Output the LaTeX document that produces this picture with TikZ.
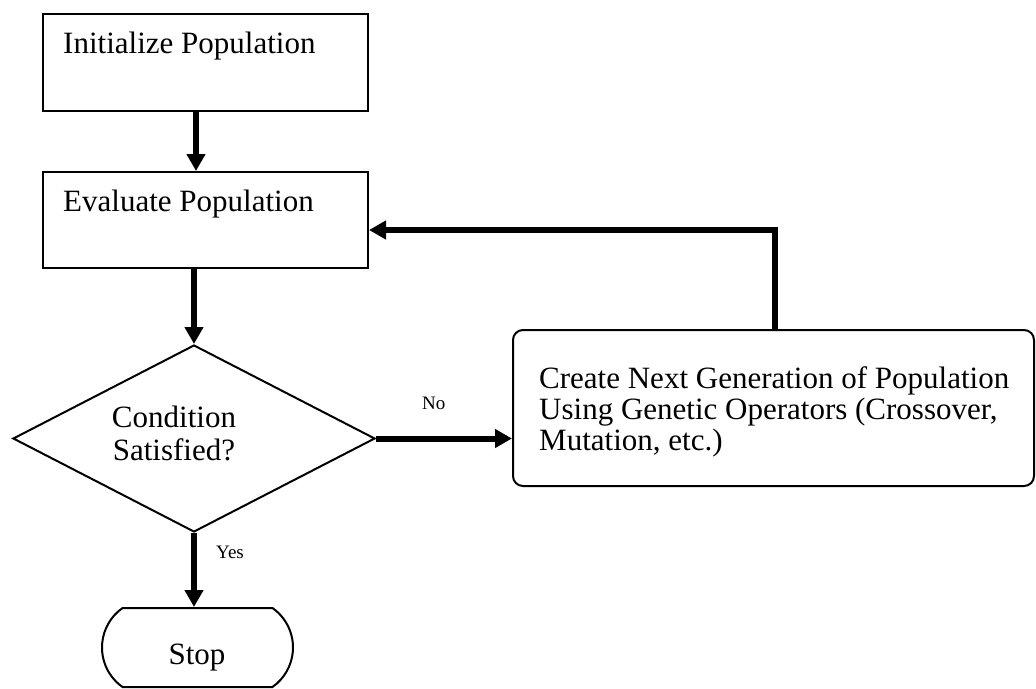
\documentclass[tikz,border=0pt]{standalone}
\usepackage{fontspec}
\setmainfont{Liberation Serif}
\usetikzlibrary{arrows.meta,shapes.geometric,shapes.misc}
\begin{document}
\begin{tikzpicture}[x=1pt,y=-1pt,
  box/.style={draw,line width=2pt,inner sep=0pt},
  arr/.style={line width=6pt,-{Triangle[length=17pt,width=18pt]}},
  big/.style={font=\fontsize{31}{33}\selectfont,inner sep=0pt},
  small/.style={font=\fontsize{19}{21}\selectfont,inner sep=0pt}]
\useasboundingbox (0,0) rectangle (1036,688);
% boxes
\node[box,minimum width=325pt,minimum height=97pt] (box1) at (205.5,62.5) {};
\node[box,minimum width=325pt,minimum height=96pt] (box2) at (205.5,220) {};
\node[box,shape=diamond,minimum width=362pt,minimum height=187pt] (dia) at (194,438.5) {};
\node[box,rounded corners=10pt,minimum width=521pt,minimum height=156pt] (gen) at (773.5,408) {};
\node[box,rounded rectangle,rounded rectangle arc length=110,minimum width=191pt,minimum height=79pt] (stop) at (197.5,647.5) {};
% texts
\node[big,anchor=base west] (t1) at (63,53) {Initialize Population};
\node[big,anchor=base west] (t2) at (63,211) {Evaluate Population};
\node[big,align=center,anchor=north] (t3) at (174,406) {Condition\\Satisfied?};
\node[font=\fontsize{31}{31}\selectfont,inner sep=0pt,align=left,anchor=north west] (t4) at (539,366)
  {Create Next Generation of Population\\Using Genetic Operators (Crossover,\\Mutation, etc.)};
\node[big,anchor=base] (t5) at (197,664) {Stop};
\node[small,anchor=base west] (no) at (422,409) {No};
\node[small,anchor=base west] (yes) at (216,558) {Yes};
% connectors
\coordinate (col) at (196,0);
\coordinate (fb) at (775,230);
\draw[arr] (box1.south -| col) -- (box2.north -| col);
\draw[arr] (box2.south -| dia.north) -- (dia.north);
\draw[arr] (dia.east) -- (dia.east -| gen.west);
\draw[arr] (dia.south) -- (dia.south |- stop.north);
\draw[arr] (gen.north -| fb) -- (fb) -- (fb -| box2.east);
\end{tikzpicture}
\end{document}
